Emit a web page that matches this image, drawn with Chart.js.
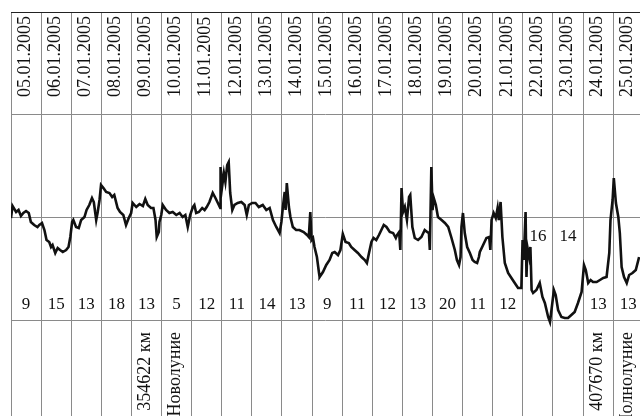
<!DOCTYPE html>
<html>
<head>
<meta charset="utf-8">
<script src="https://cdn.jsdelivr.net/npm/chart.js@4"></script>
<style>
  html, body { margin: 0; padding: 0; background: #fff; overflow: hidden; }
</style>
</head>
<body>
<canvas id="chart" width="640" height="416"></canvas>
<script>
// days shown in the columns
const dates = ['05.01.2005', '06.01.2005', '07.01.2005', '08.01.2005', '09.01.2005', '10.01.2005', '11.01.2005',
  '12.01.2005', '13.01.2005', '14.01.2005', '15.01.2005', '16.01.2005', '17.01.2005', '18.01.2005',
  '19.01.2005', '20.01.2005', '21.01.2005', '22.01.2005', '23.01.2005', '24.01.2005', '25.01.2005'];

// number written in each column
const counts = [9, 15, 13, 18, 13, 5, 12, 11, 14, 13, 9, 11, 12, 13, 20, 11, 12, 16, 14, 13, 13];

// notes under the columns
const notes = ['', '', '', '', '354622 км', 'Новолуние', '', '', '', '', '', '', '', '', '', '', '', '', '', '407670 км', 'Полнолуние'];

// the curve: time in days from 05.01 and level (one grid step = 103)
const dayPos = [0.00, 0.05, 0.17, 0.25, 0.33, 0.41, 0.50, 0.59, 0.66, 0.77, 0.88, 0.94, 1.03, 1.11, 1.18, 1.27, 1.33, 1.38, 1.47, 1.55,
  1.63, 1.72, 1.83, 1.91, 1.97, 2.03, 2.07, 2.16, 2.25, 2.33, 2.44, 2.51, 2.60, 2.69, 2.75, 2.83, 2.88, 2.94, 2.99, 3.07,
  3.16, 3.27, 3.36, 3.43, 3.54, 3.62, 3.73, 3.82, 3.91, 3.99, 4.04, 4.16, 4.27, 4.38, 4.46, 4.54, 4.65, 4.73, 4.80, 4.84,
  4.91, 4.93, 4.99, 5.04, 5.15, 5.26, 5.37, 5.49, 5.60, 5.70, 5.79, 5.87, 5.95, 6.04, 6.09, 6.15, 6.24, 6.35, 6.43, 6.50,
  6.59, 6.70, 6.79, 6.87, 6.95, 6.96, 7.01, 7.07, 7.12, 7.18, 7.23, 7.28, 7.35, 7.42, 7.53, 7.65, 7.76, 7.83, 7.90, 8.01,
  8.12, 8.23, 8.36, 8.48, 8.59, 8.70, 8.81, 8.92, 8.98, 9.03, 9.09, 9.12, 9.16, 9.23, 9.28, 9.36, 9.47, 9.58, 9.72, 9.83,
  9.89, 9.94, 9.98, 10.03, 10.08, 10.16, 10.23, 10.25, 10.36, 10.47, 10.58, 10.67, 10.75, 10.86, 10.94, 11.02, 11.11, 11.22, 11.30, 11.41,
  11.52, 11.64, 11.75, 11.82, 11.89, 11.97, 12.04, 12.13, 12.22, 12.30, 12.38, 12.47, 12.58, 12.69, 12.78, 12.82, 12.89, 12.93, 12.97, 13.02,
  13.08, 13.15, 13.22, 13.26, 13.33, 13.41, 13.52, 13.63, 13.74, 13.82, 13.88, 13.91, 13.93, 13.96, 14.00, 14.04, 14.11, 14.18, 14.30, 14.41,
  14.52, 14.63, 14.74, 14.81, 14.88, 14.93, 14.96, 15.01, 15.07, 15.15, 15.24, 15.33, 15.40, 15.48, 15.54, 15.57, 15.68, 15.79, 15.88, 15.92,
  15.96, 16.03, 16.10, 16.16, 16.20, 16.26, 16.32, 16.40, 16.51, 16.62, 16.73, 16.84, 16.95, 16.99, 17.03, 17.09, 17.12, 17.15, 17.21, 17.25,
  17.29, 17.34, 17.45, 17.56, 17.65, 17.73, 17.84, 17.90, 17.95, 18.03, 18.09, 18.17, 18.28, 18.39, 18.50, 18.61, 18.72, 18.83, 18.95, 19.03,
  19.09, 19.17, 19.25, 19.33, 19.45, 19.56, 19.67, 19.78, 19.87, 19.91, 19.98, 20.02, 20.09, 20.17, 20.22, 20.28, 20.36, 20.45, 20.53, 20.64,
  20.75, 20.86];
const level = [-1, 11, 5, 7, 1, 4, 6, 4, -5, -8, -10, -8, -6, -13, -23, -25, -30, -28, -36, -31,
  -33, -35, -33, -30, -20, -5, -3, -10, -11, -3, 0, 7, 12, 19, 15, -3, 5, 17, 32, 29,
  25, 24, 20, 22, 9, 5, 2, -8, -1, 4, 14, 10, 13, 11, 18, 12, 9, 9, -3, -20,
  -15, -5, 2, 12, 7, 4, 5, 2, 4, 0, 2, -10, 2, 10, 12, 4, 5, 9, 7, 10,
  15, 24, 19, 14, 9, 50, 30, 44, 35, 52, 55, 24, 7, 12, 14, 15, 12, 2, 12, 14,
  14, 10, 12, 7, 9, -3, -10, -16, -5, 10, 25, 7, 34, 10, 0, -10, -13, -13, -15, -18,
  -20, 5, -23, -21, -30, -40, -56, -60, -55, -48, -43, -36, -35, -38, -33, -17, -25, -26, -30, -33,
  -36, -40, -43, -46, -36, -25, -21, -23, -18, -13, -8, -10, -15, -16, -21, -18, -15, -33, 29, 5,
  10, -3, 20, 22, -10, -21, -23, -20, -13, -15, -16, -33, 0, 50, 7, 19, 12, 0, -3, -6,
  -10, -21, -33, -43, -48, -40, -10, 4, -16, -30, -36, -43, -45, -46, -40, -35, -28, -21, -20, -33,
  -3, 4, -1, 9, -3, 15, -20, -46, -56, -61, -66, -71, -71, -23, -43, 5, -60, -30, -40, -30,
  -73, -76, -73, -66, -80, -86, -100, -105, -93, -73, -78, -93, -100, -101, -101, -98, -95, -86, -75, -48,
  -53, -66, -63, -65, -65, -63, -61, -60, -36, -3, 17, 39, 14, 0, -16, -50, -60, -66, -58, -56,
  -53, -40];

const points = dayPos.map((d, i) => ({ x: d, y: level[i] }));

const textPlugin = {
  id: 'columnText',
  afterDraw(chart) {
    const ctx = chart.ctx;
    const xs = chart.scales.x;
    const ys = chart.scales.y;
    ctx.save();
    ctx.fillStyle = '#111';
    // dates, written upwards
    ctx.font = '18px "Liberation Serif", "Times New Roman", serif';
    ctx.textAlign = 'left';
    ctx.textBaseline = 'middle';
    dates.forEach((t, i) => {
      ctx.save();
      ctx.translate(xs.getPixelForValue(i + 0.5) - 1, ys.getPixelForValue(120));
      ctx.rotate(-Math.PI / 2);
      ctx.fillText(t, 0, 0);
      ctx.restore();
    });
    // counts
    ctx.font = '17px "Liberation Serif", "Times New Roman", serif';
    ctx.textAlign = 'center';
    ctx.textBaseline = 'middle';
    counts.forEach((c, i) => {
      const v = (i === 17 || i === 18) ? -20 : -88;
      ctx.fillText(String(c), xs.getPixelForValue(i + 0.5), ys.getPixelForValue(v));
    });
    // notes at the bottom
    ctx.font = '18px "Liberation Serif", "Times New Roman", serif';
    ctx.textAlign = 'right';
    notes.forEach((t, i) => {
      if (!t) return;
      ctx.save();
      ctx.translate(xs.getPixelForValue(i + 0.5) - 1, ys.getPixelForValue(-115));
      ctx.rotate(-Math.PI / 2);
      ctx.fillText(t, 0, 0);
      ctx.restore();
    });
    ctx.restore();
  }
};

new Chart(document.getElementById('chart').getContext('2d'), {
  type: 'line',
  data: {
    datasets: [{
      data: points,
      borderColor: '#111',
      borderWidth: 2.6,
      pointRadius: 0,
      tension: 0,
      fill: false
    }]
  },
  options: {
    responsive: false,
    animation: false,
    layout: { padding: { left: 11, top: 12, right: 0, bottom: 0 } },
    plugins: { legend: { display: false }, tooltip: { enabled: false } },
    scales: {
      x: {
        type: 'linear',
        min: 0,
        max: 20.89,
        afterBuildTicks: s => { s.ticks = dates.map((d, i) => ({ value: i })); },
        ticks: { display: false },
        border: { display: false },
        grid: { color: '#8a8a8a', lineWidth: 1, drawTicks: false }
      },
      y: {
        min: -199,
        max: 205,
        afterBuildTicks: s => { s.ticks = [-103, 0, 103, 205].map(v => ({ value: v })); },
        ticks: { display: false },
        border: { display: false },
        grid: {
          color: ctx => ctx.tick && ctx.tick.value === 205 ? '#222' : '#8a8a8a',
          lineWidth: 1,
          drawTicks: false
        }
      }
    }
  },
  plugins: [textPlugin]
});
</script>
</body>
</html>
